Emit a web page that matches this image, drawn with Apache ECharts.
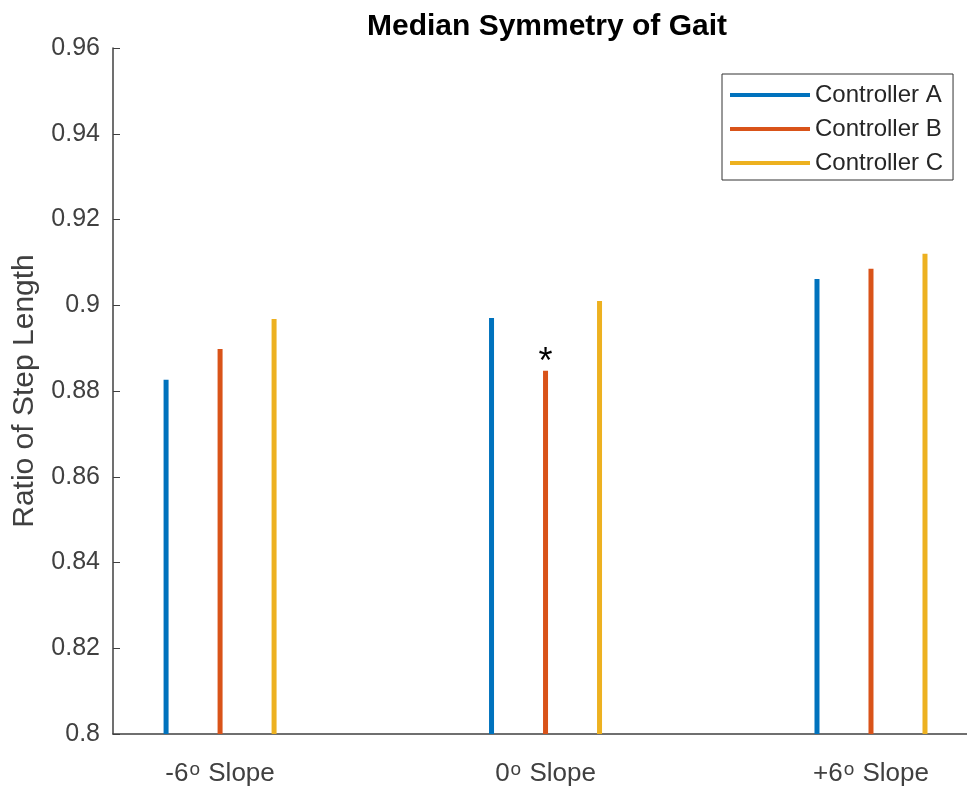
<!DOCTYPE html>
<html>
<head>
<meta charset="utf-8">
<script src="https://cdn.jsdelivr.net/npm/echarts@6/dist/echarts.min.js"></script>
<style>
html,body{margin:0;padding:0;background:#fff;}
#chart{width:967px;height:787px;}
</style>
</head>
<body>
<div id="chart"></div>
<script>
// ---- data ----
var categories = ['-6', '0', '+6'];          // slope in degrees
var seriesNames = ['Controller A', 'Controller B', 'Controller C'];
var controllerA = [0.8826, 0.8970, 0.9061];
var controllerB = [0.8898, 0.8847, 0.9085];
var controllerC = [0.8968, 0.9010, 0.9120];
var yTicks = [0.8, 0.82, 0.84, 0.86, 0.88, 0.9, 0.92, 0.94, 0.96];
var significant = { series: 1, category: 1, mark: '*' };  // asterisk annotation

var colors = ['#0072BD', '#D95319', '#EDB120'];
var allValues = [controllerA, controllerB, controllerC];
var FONT = 'Liberation Sans, Arial, Helvetica, sans-serif';

var chart = echarts.init(document.getElementById('chart'), null, { renderer: 'canvas' });

var catPositions = categories.map(function (c, i) { return i + 1; });

var series = allValues.map(function (vals, si) {
  return {
    name: seriesNames[si],
    type: 'bar',
    barWidth: 5,
    barGap: '980%',
    itemStyle: { color: colors[si] },
    clip: true,
    data: vals.map(function (v, ci) {
      var item = { value: [catPositions[ci], v] };
      if (si === significant.series && ci === significant.category) {
        item.label = {
          show: true,
          position: 'top',
          formatter: significant.mark,
          fontSize: 36,
          color: '#000',
          fontFamily: FONT,
          distance: -10
        };
      }
      return item;
    })
  };
});

var option = {
  animation: false,
  backgroundColor: '#fff',
  textStyle: { fontFamily: FONT },
  title: {
    text: 'Median Symmetry of Gait',
    left: 542,
    top: 7,
    textAlign: 'center',
    textStyle: { fontSize: 30, fontWeight: 'bold', color: '#000', fontFamily: FONT }
  },
  legend: {
    orient: 'vertical',
    left: 722,
    top: 74,
    data: seriesNames,
    icon: 'rect',
    itemWidth: 80,
    itemHeight: 4,
    itemGap: 10,
    itemTextGap: 7,
    padding: [9, 10, 5, 8],
    borderColor: '#333',
    borderWidth: 1,
    backgroundColor: '#fff',
    textStyle: { fontSize: 24, color: '#262626', fontFamily: FONT }
  },
  grid: { left: 113, top: 48, right: 0, bottom: 53, containLabel: false, outerBoundsMode: 'none' },
  xAxis: {
    type: 'value',
    min: 0.671,
    max: 3.295,
    axisLine: { show: true, lineStyle: { color: '#404040', width: 1.5 } },
    axisTick: { show: true, inside: true, length: 7, customValues: catPositions, lineStyle: { color: '#404040' } },
    splitLine: { show: false },
    axisLabel: {
      customValues: catPositions,
      margin: 26,
      formatter: function (v) {
        var idx = Math.round(v) - 1;
        return '{a|' + categories[idx] + '}{s|o}{a| Slope}';
      },
      rich: {
        a: { fontSize: 26, color: '#404040', lineHeight: 28, fontFamily: FONT },
        s: { fontSize: 19, color: '#404040', verticalAlign: 'top', lineHeight: 28, padding: [0, 1, 14, 1], fontFamily: FONT }
      }
    }
  },
  yAxis: {
    type: 'value',
    min: 0.8,
    max: 0.96,
    interval: 0.02,
    name: 'Ratio of Step Length',
    nameLocation: 'middle',
    nameGap: 73,
    nameTextStyle: { fontSize: 30, color: '#404040', fontFamily: FONT },
    axisLine: { show: true, lineStyle: { color: '#404040', width: 1.5 } },
    axisTick: { show: true, inside: true, length: 7, lineStyle: { color: '#404040' } },
    splitLine: { show: false },
    axisLabel: {
      margin: 13,
      fontSize: 25,
      color: '#404040',
      formatter: function (v) {
        var best = yTicks.reduce(function (p, t) { return Math.abs(t - v) < Math.abs(p - v) ? t : p; }, yTicks[0]);
        return String(best);
      }
    }
  },
  series: series
};

chart.setOption(option);
</script>
</body>
</html>
